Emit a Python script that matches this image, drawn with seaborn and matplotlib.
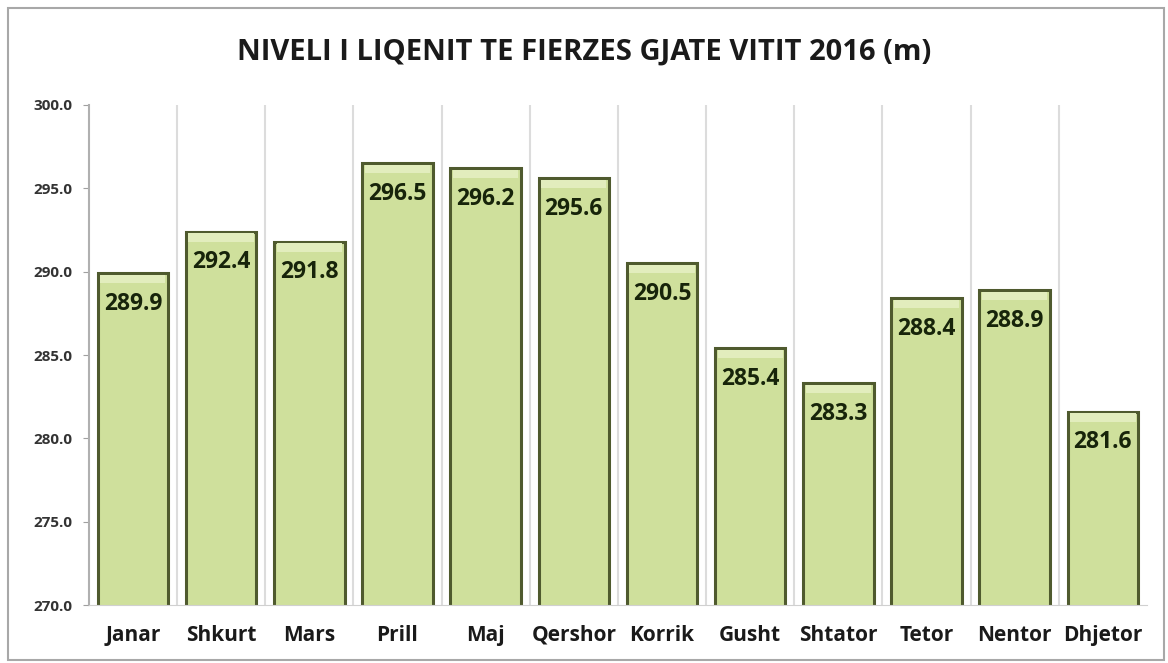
import numpy as np
import pandas as pd
import matplotlib
matplotlib.use("Agg")
import matplotlib.pyplot as plt
import seaborn as sns
from matplotlib.patches import Rectangle

# data
muajt = ['Janar', 'Shkurt', 'Mars', 'Prill', 'Maj', 'Qershor', 'Korrik',
         'Gusht', 'Shtator', 'Tetor', 'Nentor', 'Dhjetor']
niveli = [289.9, 292.4, 291.8, 296.5, 296.2, 295.6, 290.5,
          285.4, 283.3, 288.4, 288.9, 281.6]
y_ticks = [270.0, 275.0, 280.0, 285.0, 290.0, 295.0, 300.0]

df = pd.DataFrame({'muaji': muajt, 'niveli': niveli})

sns.set_style('white')
plt.rcParams['font.family'] = ['Open Sans', 'DejaVu Sans']

fig = plt.figure(figsize=(11.68, 6.63), dpi=100)
ax = fig.add_axes([0.076, 0.087, 0.906, 0.755])

sns.barplot(data=df, x='muaji', y='niveli', color='#cfe09c', width=0.8,
            edgecolor='#4f5a2e', linewidth=2.2, saturation=1, ax=ax)

# soft bevel highlight just under the top edge of each bar
for p in list(ax.patches):
    x0, w, top = p.get_x(), p.get_width(), p.get_y() + p.get_height()
    ax.add_patch(Rectangle((x0 + 0.03, top - 0.6), w - 0.06, 0.5,
                           facecolor='#e2edbd', edgecolor='none', zorder=p.get_zorder() + 0.1))

ax.set_ylim(270, 300)
ax.set_xlim(-0.5, len(muajt) - 0.5)
ax.set_yticks(y_ticks)
ax.set_yticklabels([f'{v:.1f}' for v in y_ticks], fontsize=11,
                   fontweight='bold', color='#333333')
ax.tick_params(axis='y', length=4, color='#a0a0a0', left=True, pad=8)
ax.tick_params(axis='x', length=0, pad=14)
for lbl in ax.get_xticklabels():
    lbl.set_fontsize(15)
    lbl.set_fontweight('bold')
    lbl.set_color('#1a1a1a')
ax.set_xlabel('')
ax.set_ylabel('')

# vertical gridlines between months
for b in np.arange(0.5, len(muajt) - 0.5, 1):
    ax.axvline(b, color='#dcdcdc', lw=1.5, zorder=0)

for s in ['top', 'right']:
    ax.spines[s].set_visible(False)
ax.spines['left'].set_color('#b0b0b0')
ax.spines['bottom'].set_color('#d0d0d0')
ax.spines['left'].set_linewidth(1.5)

# value labels inside the bars near the top
for i, v in enumerate(niveli):
    ax.annotate(f'{v:.1f}', (i, v), xytext=(0, -22), textcoords='offset points',
                ha='center', va='center', fontsize=16.5, fontweight='bold',
                color='#17240a', zorder=5)

fig.text(0.5, 0.922, 'NIVELI I LIQENIT TE FIERZES GJATE VITIT 2016 (m)',
         ha='center', va='center', fontsize=21, fontweight='bold', color='#1a1a1a')

# outer border
fig.patches.append(Rectangle((0.007, 0.004), 0.99, 0.984, transform=fig.transFigure,
                             fill=False, edgecolor='#a8a8a8', lw=1.5))

fig.savefig('out.png', dpi=100)
